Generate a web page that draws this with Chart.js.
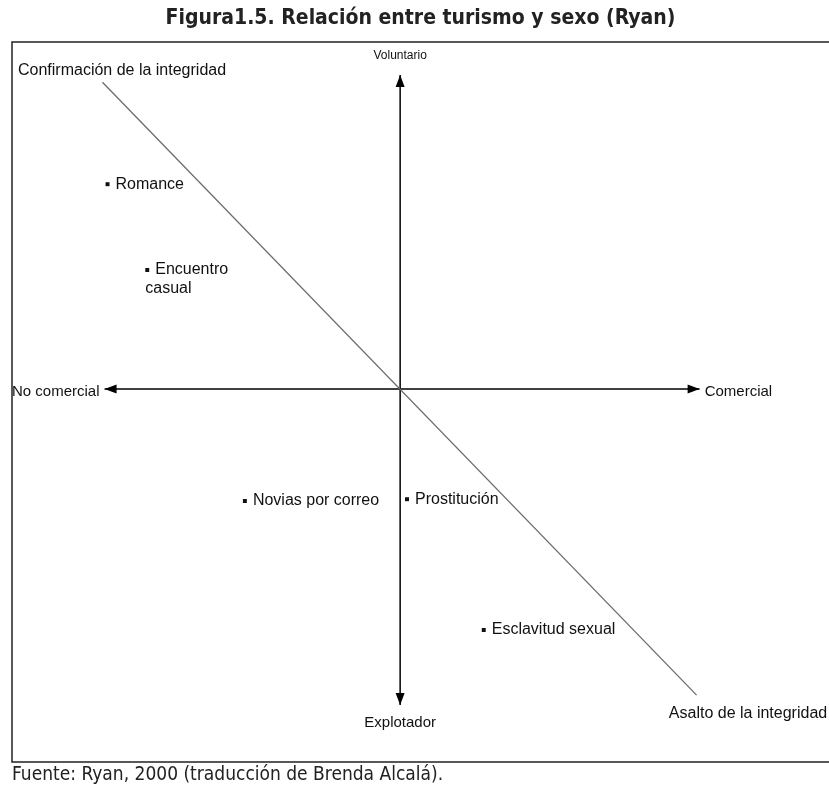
<!DOCTYPE html>
<html>
<head>
<meta charset="utf-8">
<script src="https://cdn.jsdelivr.net/npm/chart.js@4"></script>
<style>
  body { margin: 0; background: #fff; }
  #wrap { width: 829px; height: 787px; }
</style>
</head>
<body>
<div id="wrap"><canvas id="diagram"></canvas></div>
<script>
// Categories placed on the two axes (x: comercial, y: voluntario)
const categories = ['Romance', 'Encuentro casual', 'Novias por correo', 'Prostitución', 'Esclavitud sexual'];
const commercialValues = [-9.8, -8.47, -5.2, 0.23, 2.8];
const voluntaryValues = [6.83, 3.97, -3.73, -3.67, -8.03];

// Axis extents and the integrity diagonal
const xAxisEnds = [-9.9, 10.03];
const yAxisEnds = [-10.53, 10.47];
const diagonalX = [-9.97, 9.93];
const diagonalY = [10.23, -10.2];

// Axis / pole labels
const poleLabels = ['Voluntario', 'Explotador', 'No comercial', 'Comercial', 'Confirmación de la integridad', 'Asalto de la integridad'];
const poleX = [0, 0, -10.07, 10.2, -12.8, 9.0];
const poleY = [11.13, -11.13, -0.1, -0.1, 10.63, -10.8];
const poleAlign = ['center', 'center', 'right', 'left', 'left', 'left'];

const FAMILY = '"Liberation Sans", Arial, sans-serif';
const poleSizes = [12, 15, 15, 15, 16, 16];
const LABEL_SIZE = 16;

const annotate = {
  id: 'annotate',
  afterDatasetsDraw(chart) {
    const { ctx, chartArea: a, scales: { x, y } } = chart;
    ctx.save();

    // frame (right side runs off the page in the original)
    ctx.strokeStyle = '#222';
    ctx.lineWidth = 1.5;
    ctx.beginPath();
    ctx.moveTo(a.right + 5, a.top);
    ctx.lineTo(a.left, a.top);
    ctx.lineTo(a.left, a.bottom);
    ctx.lineTo(a.right + 5, a.bottom);
    ctx.stroke();

    // arrow heads at both ends of each axis
    const head = (px, py, dx, dy) => {
      const len = 12, half = 4.5;
      ctx.beginPath();
      ctx.moveTo(px, py);
      ctx.lineTo(px - dx * len - dy * half, py - dy * len + dx * half);
      ctx.lineTo(px - dx * len + dy * half, py - dy * len - dx * half);
      ctx.closePath();
      ctx.fill();
    };
    ctx.fillStyle = '#000';
    head(x.getPixelForValue(xAxisEnds[0]), y.getPixelForValue(0), -1, 0);
    head(x.getPixelForValue(xAxisEnds[1]), y.getPixelForValue(0), 1, 0);
    head(x.getPixelForValue(0), y.getPixelForValue(yAxisEnds[1]), 0, -1);
    head(x.getPixelForValue(0), y.getPixelForValue(yAxisEnds[0]), 0, 1);

    // pole labels
    ctx.fillStyle = '#111';
    ctx.textBaseline = 'middle';
    poleLabels.forEach((t, i) => {
      ctx.font = poleSizes[i] + 'px ' + FAMILY;
      ctx.textAlign = poleAlign[i];
      ctx.fillText(t, x.getPixelForValue(poleX[i]), y.getPixelForValue(poleY[i]));
    });

    // category labels next to their markers
    ctx.font = LABEL_SIZE + 'px ' + FAMILY;
    ctx.textAlign = 'left';
    categories.forEach((name, i) => {
      const px = x.getPixelForValue(commercialValues[i]);
      const py = y.getPixelForValue(voluntaryValues[i]);
      if (name === 'Encuentro casual') {
        ctx.fillText('Encuentro', px + 8, py);
        ctx.fillText('casual', px - 2, py + 19);
      } else {
        ctx.fillText(name, px + 8, py);
      }
    });
    ctx.restore();
  }
};

new Chart(document.getElementById('diagram'), {
  type: 'scatter',
  data: {
    datasets: [
      {
        label: 'Integridad',
        type: 'line',
        data: diagonalX.map((v, i) => ({ x: v, y: diagonalY[i] })),
        borderColor: '#6b6b6b',
        borderWidth: 1.3,
        pointRadius: 0
      },
      {
        label: 'Comercial',
        type: 'line',
        data: xAxisEnds.map(v => ({ x: v, y: 0 })),
        borderColor: '#000',
        borderWidth: 1.5,
        pointRadius: 0
      },
      {
        label: 'Voluntario',
        type: 'line',
        data: yAxisEnds.map(v => ({ x: 0, y: v })),
        borderColor: '#000',
        borderWidth: 1.5,
        pointRadius: 0
      },
      {
        label: 'Categorías',
        data: commercialValues.map((v, i) => ({ x: v, y: voluntaryValues[i] })),
        pointStyle: 'rect',
        pointRadius: 2.8,
        backgroundColor: '#111',
        borderWidth: 0
      }
    ]
  },
  options: {
    responsive: true,
    maintainAspectRatio: false,
    animation: false,
    layout: { padding: { left: 12, right: 0, top: 0, bottom: 0 } },
    scales: {
      x: { type: 'linear', min: -13, max: 14.23, display: false },
      y: { type: 'linear', min: -12.43, max: 11.57, display: false }
    },
    plugins: {
      legend: { display: false },
      tooltip: { enabled: false },
      title: {
        display: true,
        text: 'Figura1.5. Relación entre turismo y sexo (Ryan)',
        color: '#222',
        font: { family: '"Liberation Sans Narrow", "DejaVu Sans Condensed", sans-serif', size: 21, weight: 'bold', lineHeight: 1.2 },
        padding: { top: 6, bottom: 10.8 }
      },
      subtitle: {
        display: true,
        position: 'bottom',
        align: 'start',
        text: 'Fuente: Ryan, 2000 (traducción de Brenda Alcalá).',
        color: '#222',
        font: { family: '"Liberation Sans Narrow", "DejaVu Sans Condensed", sans-serif', size: 19, weight: 'normal', lineHeight: 1.2 },
        padding: { top: 2, bottom: 0.2 }
      }
    }
  },
  plugins: [annotate]
});
</script>
</body>
</html>
